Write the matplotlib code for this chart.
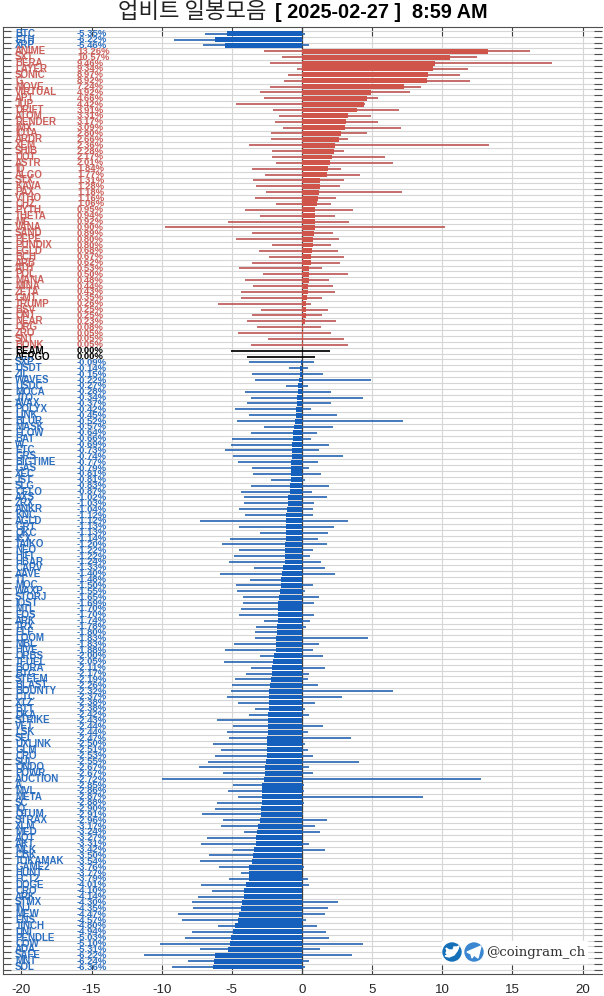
#!/usr/bin/env python3
"""Upbit daily candle overview: one row per coin, bar = change, line = low/high."""
import matplotlib
matplotlib.use("Agg")
import matplotlib.pyplot as plt
from matplotlib.patches import Circle, Polygon, Rectangle

# ── Data ────────────────────────────────────────────────────────────
names = [
    "BTC", "ETH", "XRP",
    "ANIME", "SXT", "BERA", "LAYER", "SONIC", "G", "MOVE", "VIRTUAL", "APT", "JUP",
    "DRIFT", "ATOM", "RENDER", "IMX", "IOTA", "ARDR", "XEM", "SHIB", "DOT", "ASTR",
    "ID", "ALGO", "STX", "KAVA", "PAX", "VTHO", "CHZ", "PYTH", "THETA", "ME",
    "VANA", "SAND", "PEPE", "PUNDIX", "EGLD", "BCH", "ARB", "ATH", "POL", "MANA",
    "MINA", "ZETA", "GMT", "TRUMP", "BSV", "ONT", "NEAR", "ORG", "ZRO", "SNT", "BONK",
    "BEAM", "AERGO",
    "SXP", "USDT", "ZIL", "WAVES", "USDC", "MOCA", "JTO", "AVAX", "POLYX", "LINK",
    "BLUR", "MASK", "FLOW", "BAT", "W", "ETC", "GRS", "BIGTIME", "GAS", "XEC",
    "JST", "SLG", "CELO", "AXS", "ZRX", "ANKR", "KNC", "AGLD", "GRT", "QKC",
    "ICX", "TAIKO", "NEO", "HIFI", "HBAR", "CARV", "AAVE", "TT", "MOC", "WAXP",
    "STORJ", "IOST", "MTL", "EOS", "ARK", "TRX", "ELF", "LOOM", "MBL", "HIVE",
    "ORBS", "TFUEL", "BORA", "BTG", "STEEM", "BLAST", "BOUNTY", "CTC", "XTZ", "BTT",
    "DKA", "STRIKE", "VET", "LSK", "SEI", "UXLINK", "GLM", "CRO", "SUI", "ONDO",
    "POWR", "AUCTION", "A", "MVL", "META", "SC", "IQ", "QTUM", "STRAX", "XLM",
    "MED", "AQT", "AKT", "MLK", "CBK", "TOKAMAK", "GAME2", "HUNT", "FCT2", "DOGE",
    "CRO", "ARK", "STMX", "INJ", "MEW", "ENS", "1INCH", "UNI", "PENDLE", "COW",
    "ADA", "SAFE", "MNT", "SOL",
]
changes = [
    -5.35, -6.22, -5.46,
    13.26, 10.57, 9.46, 9.34, 8.97, 8.92, 7.24, 4.92, 4.66, 4.42,
    3.91, 3.31, 3.17, 3.09, 2.80, 2.66, 2.36, 2.28, 2.17, 2.01,
    1.84, 1.77, 1.31, 1.28, 1.18, 1.16, 1.06, 0.95, 0.94, 0.92,
    0.90, 0.89, 0.80, 0.80, 0.68, 0.67, 0.62, 0.53, 0.50, 0.48,
    0.44, 0.43, 0.35, 0.26, 0.25, 0.25, 0.23, 0.08, 0.05, 0.05, 0.05,
    0.00, 0.00,
    -0.09, -0.14, -0.15, -0.22, -0.27, -0.28, -0.34, -0.37, -0.42, -0.45,
    -0.52, -0.57, -0.64, -0.66, -0.69, -0.73, -0.74, -0.77, -0.79, -0.81,
    -0.81, -0.83, -0.87, -1.02, -1.03, -1.04, -1.12, -1.12, -1.13, -1.13,
    -1.14, -1.20, -1.22, -1.22, -1.24, -1.33, -1.40, -1.48, -1.50, -1.55,
    -1.65, -1.69, -1.70, -1.70, -1.74, -1.78, -1.80, -1.83, -1.83, -1.88,
    -2.00, -2.05, -2.11, -2.17, -2.19, -2.26, -2.32, -2.37, -2.38, -2.38,
    -2.42, -2.43, -2.44, -2.44, -2.47, -2.50, -2.51, -2.53, -2.55, -2.67,
    -2.67, -2.72, -2.85, -2.86, -2.87, -2.88, -2.90, -2.91, -2.96, -3.17,
    -3.24, -3.27, -3.31, -3.42, -3.50, -3.54, -3.76, -3.77, -3.79, -4.01,
    -4.10, -4.14, -4.30, -4.35, -4.47, -4.57, -4.80, -4.94, -5.03, -5.10,
    -5.31, -6.22, -6.24, -6.36,
]
lows = [
    -6.9, -9.1, -7.05,
    -2.7, -1.43, -2.28, -0.38, -1.0, -1.28, -2.28, -3.0, -2.73, -4.7,
    -2.04, -1.66, -1.92, -1.35, -2.19, -2.23, -3.75, -2.14, -2.16, -1.85,
    -3.54, -2.64, -3.5, -3.28, -2.6, -3.33, -1.88, -4.04, -2.97, -5.3,
    -9.74, -3.56, -4.7, -2.14, -3.09, -2.33, -3.56, -4.49, -2.76, -4.04,
    -3.49, -4.35, -4.32, -6.0, -2.92, -3.54, -3.92, -3.2, -4.56, -2.42, -3.66,
    -5.03, -3.94,
    -3.78, -0.95, -3.59, -3.35, -1.16, -4.09, -3.63, -3.94, -4.8, -3.78,
    -4.63, -2.71, -3.66, -5.0, -5.08, -5.49, -4.94, -4.56, -3.56, -3.52,
    -2.23, -3.61, -4.37, -4.13, -4.13, -4.49, -4.06, -7.24, -4.51, -2.97,
    -5.1, -5.7, -4.49, -4.85, -5.18, -3.42, -5.84, -3.7, -4.68, -4.63,
    -4.18, -4.2, -4.32, -4.47, -2.68, -3.25, -3.33, -3.33, -4.82, -5.51,
    -3.02, -5.53, -3.61, -3.99, -4.75, -5.01, -5.04, -5.32, -4.56, -3.37,
    -3.75, -6.06, -4.89, -5.37, -5.18, -6.37, -5.8, -6.22, -6.67, -7.34,
    -5.63, -9.95, -4.92, -5.3, -4.58, -6.03, -6.2, -7.13, -5.65, -5.77,
    -4.13, -6.77, -7.2, -4.94, -6.6, -7.27, -5.89, -4.35, -5.2, -7.17,
    -6.41, -7.39, -7.84, -7.74, -8.81, -8.53, -5.99, -7.81, -8.31, -10.1,
    -7.27, -11.24, -8.1, -9.26,
]
highs = [
    0.2, 0.1, 0.5,
    16.25, 12.5, 17.8, 11.8, 11.25, 12.0, 8.5, 7.7, 5.44, 4.5,
    6.9, 4.94, 5.39, 7.05, 4.6, 3.28, 13.35, 3.0, 5.9, 6.5,
    2.78, 4.13, 2.97, 2.7, 7.15, 2.42, 2.1, 3.63, 2.35, 3.33,
    10.2, 2.23, 2.64, 2.07, 2.59, 3.0, 2.68, 1.43, 3.28, 1.92,
    2.2, 2.33, 1.43, 0.66, 1.88, 1.43, 2.4, 1.38, 2.04, 3.0, 3.28,
    2.0, 0.95,
    0.86, 0.43, 1.5, 4.94, 0.43, 2.04, 4.35, 2.09, 0.64, 2.47,
    7.2, 2.19, 1.07, 0.64, 1.92, 1.19, 2.92, 1.14, 0.48, 1.35,
    0.19, 1.92, 0.69, 1.76, 0.86, 0.79, 0.76, 3.28, 2.26, 1.83,
    1.14, 1.78, 0.79, 0.57, 1.38, 1.64, 2.38, 0.0, 0.79, 0.2,
    1.19, 0.83, 0.0, 0.83, 0.55, 0.26, 0.0, 4.7, 1.24, 0.79,
    1.47, 0.0, 1.64, 0.5, 0.43, 1.17, 6.46, 2.85, 0.9, 0.19,
    0.5, 0.0, 1.52, 0.43, 3.47, 0.19, 0.43, 0.76, 4.06, 0.5,
    0.81, 12.78, 0.14, 0.14, 8.65, 0.14, 0.0, 0.1, 1.78, 0.95,
    1.26, 0.0, 0.5, 1.64, 0.0, 0.0, 0.14, 0.0, 0.4, 0.52,
    0.0, 0.0, 2.59, 1.83, 1.64, 0.26, 1.09, 1.71, 1.9, 4.32,
    1.28, 3.56, 0.52, 0.19,
]
x_ticks = [-20, -15, -10, -5, 0, 5, 10, 15, 20]
title_left = "업비트 일봉모음"
title_right = "[ 2025-02-27 ]  8:59 AM"
handle = "@coingram_ch"

RED = "#CF544A"
BLUE = "#1560BD"
RED_LINE = "#BE5A58"
BLUE_LINE = "#2B69B5"
RED_TEXT = "#CC5F5A"
BLUE_TEXT = "#2C6FC0"

W, H = 604, 996
plt.rcParams["font.family"] = ["Liberation Sans", "DejaVu Sans"]
plt.rcParams["axes.unicode_minus"] = False


def main():
    n = len(names)
    fig = plt.figure(figsize=(W / 100, H / 100), dpi=100)
    ax = fig.add_axes([2.5 / W, 1 - 974 / H, 599 / W, (974 - 27.5) / H])

    # pixel layout of the rows: first row at y=33.7, last at y=967
    step = (967 - 33.7) / (n - 1)
    ax.set_xlim(-21.35, 21.35)
    ax.set_ylim(n - 1 + 7 / step, -6.2 / step)

    rows = list(range(n))
    bar_cols = [RED if c > 0 else BLUE if c < 0 else "black" for c in changes]
    line_cols = [RED_LINE if c > 0 else BLUE_LINE if c < 0 else "black" for c in changes]
    text_cols = [RED_TEXT if c > 0 else BLUE_TEXT if c < 0 else "black" for c in changes]

    ax.axvline(0, color="#404040", lw=0.9, zorder=1.5)
    ax.hlines(rows, lows, highs, colors=line_cols, lw=1.25, zorder=2)
    ax.barh(rows, changes, height=0.84, color=bar_cols, zorder=3)

    for i in rows:
        ax.text(-20.45, i, names[i], color=text_cols[i], fontsize=7.0,
                fontweight="bold", ha="left", va="center", zorder=5)
        ax.text(-16.04, i, f"{changes[i]:.2f}%", color=text_cols[i], fontsize=6.8,
                fontweight="bold", ha="left", va="center", zorder=5)

    ax.set_xticks(x_ticks)
    ax.set_xticklabels([str(t) for t in x_ticks], fontsize=9.6, color="#262626")
    ax.set_yticks([i - 0.5 for i in range(n + 1)])
    ax.set_yticklabels([])
    ax.tick_params(axis="x", direction="in", length=6.5, width=0.8, color="#404040",
                   top=True, bottom=True, pad=7)
    ax.tick_params(axis="y", direction="in", length=5.8, width=0.8, color="#505050",
                   left=True, right=True)
    ax.grid(True, color="#D6D6D6", lw=0.8, zorder=0)
    ax.set_axisbelow(True)
    for side in ("top", "bottom", "left"):
        ax.spines[side].set_color("#505050")
        ax.spines[side].set_linewidth(0.8)
    ax.spines["right"].set_visible(False)

    # title: hangul is thin, the date part is bold
    fig.text(267 / W, 1 - 12 / H, title_left, family=["Noto Sans CJK KR", "DejaVu Sans"],
             fontsize=16, fontweight="light", ha="right", va="center", color="#222222")
    fig.text(275 / W, 1 - 12 / H, title_right, fontsize=14.3, fontweight="bold",
             ha="left", va="center", color="black")

    # watermark on a full-figure overlay in pixel units
    over = fig.add_axes([0, 0, 1, 1], facecolor="none")
    over.set_xlim(0, W)
    over.set_ylim(H, 0)
    over.axis("off")
    over.add_patch(Rectangle((442, 941), 145, 22, color="white", zorder=1))
    over.add_patch(Circle((452, 952), 9, color="#1470B8", zorder=2))
    over.add_patch(Circle((474, 952), 9, color="#3A86D0", zorder=2))
    # twitter bird, rough
    over.add_patch(Polygon([(446, 948), (449, 950), (453, 950), (454, 947), (457, 947),
                            (459, 946), (458, 949), (457, 951), (454, 955), (449, 957),
                            (445, 956), (448, 955), (446, 953), (447, 951)],
                           color="white", zorder=3))
    # telegram plane
    over.add_patch(Polygon([(467, 952), (481, 946), (478, 958), (474, 955), (472, 958),
                            (471, 954)], color="white", zorder=3))
    over.text(486.5, 952, handle, family="DejaVu Serif", fontsize=9.5, color="#333333",
              ha="left", va="center", zorder=3)

    fig.savefig("out.png", dpi=100)


if __name__ == "__main__":
    main()
